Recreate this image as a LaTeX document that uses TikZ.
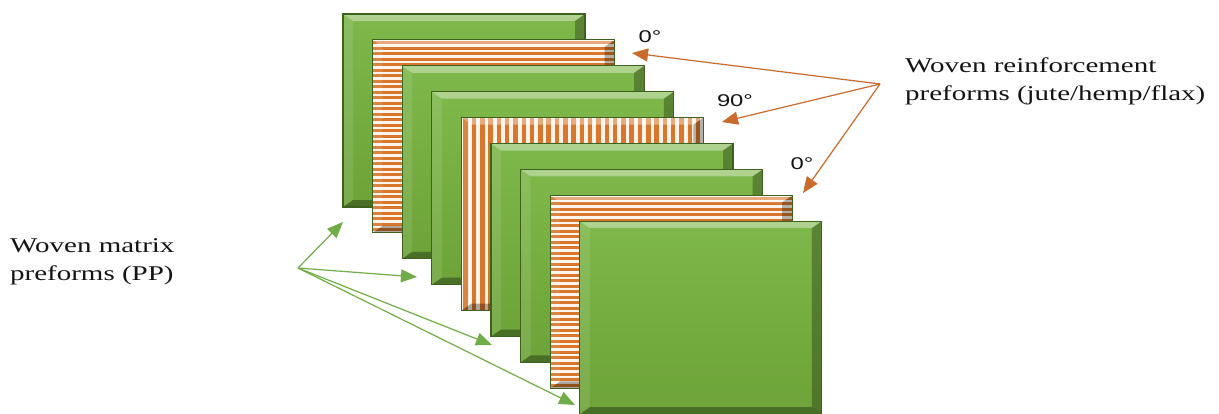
\documentclass[tikz,border=0pt]{standalone}
\usepackage{fontspec}
\setmainfont{Liberation Serif}
\newfontfamily\labelfont[FakeStretch=1.38]{Liberation Serif}
\newfontfamily\anglefont[FakeStretch=1.4]{Liberation Sans}
\usetikzlibrary{arrows.meta}

\definecolor{pgreen}{HTML}{78B043}
\definecolor{pgreentop}{HTML}{7EB74A}
\definecolor{pgreenbot}{HTML}{6DA338}
\definecolor{pedge}{HTML}{3E6120}
\definecolor{fibre}{HTML}{D8762C}
\definecolor{fibrelight}{HTML}{FCF4EA}
\definecolor{fibrearrow}{HTML}{C96B2C}
\definecolor{matrixarrow}{HTML}{70AD47}

\tikzset{
  labeltext/.style={font=\labelfont\fontsize{21}{28}\selectfont, inner sep=0pt, align=left, text=black!92},
  angletext/.style={font=\anglefont\fontsize{17}{20}\selectfont, inner sep=0pt, text=black!92},
  fibrelink/.style={draw=fibrearrow, line width=1.2pt, -{Triangle[length=16pt,width=13pt]}},
  matrixlink/.style={draw=matrixarrow, line width=1.2pt, -{Triangle[length=16pt,width=13pt]}},
}

% one bevelled preform sheet: #1 position in the stack, #2 kind
% (0 = matrix sheet, 1 = fibres at 0 degrees, 2 = fibres at 90 degrees)
\newcommand\preform[2]{%
  \begin{scope}[shift={(343+29.6*#1,14+25.9*#1)}]
    \ifcase#2
      \shade[top color=pgreentop, bottom color=pgreenbot] (0,0) rectangle (242,193);
    \or
      \fill[fibrelight] (0,0) rectangle (242,193);
      \begin{scope}
        \clip (0,0) rectangle (242,193);
        \foreach \k in {0,...,35}
          \fill[fibre] (0,{5.5*\k+1.5}) rectangle (242,{5.5*\k+4.5});
      \end{scope}
    \or
      \fill[fibrelight] (0,0) rectangle (242,193);
      \begin{scope}
        \clip (0,0) rectangle (242,193);
        \foreach \k in {0,...,29}
          \fill[fibre] ({8.3*\k+2},0) rectangle ({8.3*\k+6.5},193);
      \end{scope}
    \fi
    % bevel faces
    \fill[white, opacity=0.38] (0,0) -- (242,0) -- (232,7) -- (10,7) -- cycle;
    \fill[white, opacity=0.10] (0,0) -- (10,7) -- (10,186) -- (0,193) -- cycle;
    \fill[black, opacity=0.28] (242,0) -- (242,193) -- (232,186) -- (232,7) -- cycle;
    \fill[black, opacity=0.32] (0,193) -- (242,193) -- (232,186) -- (10,186) -- cycle;
    \draw[pedge, line width=1.1pt] (0,0) rectangle (242,193);
  \end{scope}}

\begin{document}
\begin{tikzpicture}[x=1pt, y=-1pt]
  \useasboundingbox[fill=white] (0,0) rectangle (1219,413);

  % the stack of preforms, back to front
  \preform{0}{0}
  \preform{1}{1}
  \preform{2}{0}
  \preform{3}{0}
  \preform{4}{2}
  \preform{5}{0}
  \preform{6}{0}
  \preform{7}{1}
  \preform{8}{0}

  % labels (base anchor sits on the last line)
  \node[labeltext, anchor=base west] (matrix) at (10,280) {Woven matrix\\preforms (PP)};
  \node[labeltext, anchor=base west] (reinf) at (905,100) {Woven reinforcement\\preforms (jute/hemp/flax)};

  \node[angletext] (deg0a) at (650,37) {0°};
  \node[angletext] (deg90) at (735,101) {90°};
  \node[angletext] (deg0b) at (802,164) {0°};

  % arrows to the fibre sheets
  \coordinate (fsrc) at (880,84);
  \coordinate (ftipa) at (632,53);
  \coordinate (ftipb) at (722,122);
  \coordinate (ftipc) at (803,193);
  \draw[fibrelink] (fsrc) -- (ftipa);
  \draw[fibrelink] (fsrc) -- (ftipb);
  \draw[fibrelink] (fsrc) -- (ftipc);

  % arrows to the matrix sheets
  \coordinate (msrc) at (298,268);
  \coordinate (mtipa) at (343,222);
  \coordinate (mtipb) at (417,277);
  \coordinate (mtipc) at (492,345);
  \coordinate (mtipd) at (575,405);
  \draw[matrixlink] (msrc) -- (mtipa);
  \draw[matrixlink] (msrc) -- (mtipb);
  \draw[matrixlink] (msrc) -- (mtipc);
  \draw[matrixlink] (msrc) -- (mtipd);
\end{tikzpicture}
\end{document}
